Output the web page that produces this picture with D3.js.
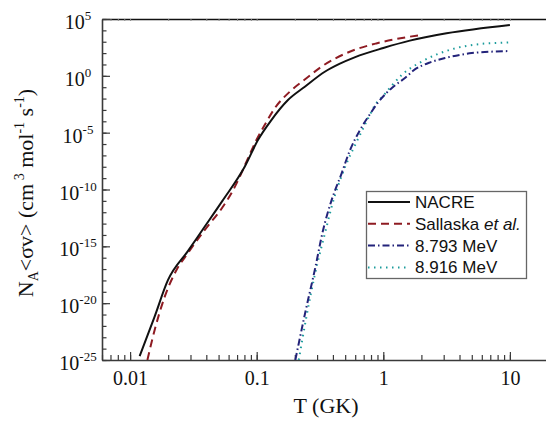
<!DOCTYPE html>
<html>
<head>
<meta charset="utf-8">
<script src="https://cdn.jsdelivr.net/npm/d3@7"></script>
<style>
  body { margin: 0; background: #fff; }
</style>
</head>
<body>
<div id="chart"></div>
<script>
// Temperatures in GK, and log10 of the rate
const tNacre = [0.0119, 0.0156, 0.0199, 0.0286, 0.0388, 0.0536, 0.0804, 0.1023, 0.1306, 0.1766, 0.24, 0.345, 0.45, 0.6, 1.0, 1.62, 3.16, 10];
const logNacre = [-24.65, -21.2, -17.98, -15.42, -13.28, -11.0, -8.0, -5.65, -3.89, -2.13, -0.96, 0.36, 1.05, 1.65, 2.45, 3.1, 3.74, 4.47];

const tSallaska = [0.0137, 0.0156, 0.01875, 0.0232, 0.0286, 0.0388, 0.0542, 0.0631, 0.0735, 0.0853, 0.0995, 0.1156, 0.1387, 0.1824, 0.247, 0.324, 0.543, 0.88, 1.53, 2.0];
const logSallaska = [-25.0, -22.4, -19.45, -17.1, -15.6, -13.57, -11.5, -10.34, -8.88, -7.26, -5.65, -4.33, -2.86, -1.4, -0.22, 0.8, 2.12, 2.85, 3.4, 3.6];

const t8793 = [0.202, 0.24, 0.29, 0.334, 0.389, 0.468, 0.543, 0.652, 0.782, 0.9, 1.05, 1.25, 1.5, 1.72, 2.3, 3.16, 5.0, 7.0, 10];
const log8793 = [-25, -21.0, -16.9, -13.6, -11.0, -8.6, -6.6, -4.8, -3.4, -2.4, -1.55, -0.8, -0.15, 0.45, 1.15, 1.6, 2.0, 2.12, 2.18];

const t8916 = [0.215, 0.247, 0.288, 0.356, 0.389, 0.506, 0.608, 0.782, 0.857, 1.0, 1.17, 1.39, 2.0, 3.46, 5.8, 8.6, 10];
const log8916 = [-25, -21.2, -17.5, -13.3, -11.6, -7.85, -5.94, -3.45, -2.6, -1.75, -0.85, 0.05, 1.24, 2.33, 2.8, 2.91, 2.95];

const xMajorTicks = [0.01, 0.1, 1, 10];
const xTickLabels = ["0.01", "0.1", "1", "10"];
const yMajorExp = [-25, -20, -15, -10, -5, 0, 5];

const width = 546, height = 424;
const margin = { top: 19, right: -2, bottom: 64, left: 102 };

const svg = d3.select("#chart").append("svg")
  .attr("width", width)
  .attr("height", height);

const x = d3.scaleLog()
  .domain([0.006, 20])
  .range([margin.left, width - margin.right]);

const y = d3.scaleLog()
  .domain([1e-25, 1e5])
  .range([height - margin.bottom, margin.top]);

svg.append("clipPath").attr("id", "plot-clip")
  .append("rect")
  .attr("x", margin.left)
  .attr("y", margin.top)
  .attr("width", width - margin.left - margin.right)
  .attr("height", height - margin.top - margin.bottom);

// minor x ticks: 1..9 per decade
const xMinor = [];
for (let e = -3; e <= 1; e++) {
  for (let m = 1; m <= 9; m++) {
    const v = m * Math.pow(10, e);
    if (v >= 0.006 && v <= 20) xMinor.push(v);
  }
}
const yMinor = d3.range(-25, 6).map(e => Math.pow(10, e));

const axisColor = "#3a3a3a";

function styleAxis(g) {
  g.selectAll("path.domain").attr("stroke", axisColor).attr("stroke-width", 1.6);
  g.selectAll(".tick line").attr("stroke", axisColor).attr("stroke-width", 1.2);
}

// top border with tiny ticks
svg.append("g")
  .attr("transform", `translate(0,${margin.top})`)
  .call(d3.axisBottom(x).tickValues(xMinor).tickSize(2).tickSizeOuter(0).tickFormat(""))
  .call(g => {
    g.select("path.domain").attr("stroke", "#111").attr("stroke-width", 1.6);
    g.selectAll(".tick line").attr("stroke", "#888").attr("stroke-width", 1);
  });

// bottom axis
const bottom = svg.append("g")
  .attr("transform", `translate(0,${height - margin.bottom})`);
bottom.append("g")
  .call(d3.axisBottom(x).tickValues(xMinor).tickSizeInner(-5).tickSizeOuter(0).tickFormat(""))
  .call(styleAxis);
bottom.append("g")
  .call(d3.axisBottom(x).tickValues(xMajorTicks).tickSizeInner(-8).tickSizeOuter(0).tickPadding(11)
    .tickFormat((d, i) => xTickLabels[i]))
  .call(styleAxis)
  .call(g => g.select("path.domain").remove())
  .call(g => g.selectAll("text")
    .attr("fill", "#111")
    .style("font-family", "'Liberation Serif', 'DejaVu Serif', serif")
    .style("font-size", "20px"));

// left axis
const left = svg.append("g")
  .attr("transform", `translate(${margin.left},0)`);
left.append("g")
  .call(d3.axisLeft(y).tickValues(yMinor).tickSizeInner(-4.5).tickSizeOuter(0).tickFormat(""))
  .call(styleAxis);
left.append("g")
  .call(d3.axisLeft(y).tickValues(yMajorExp.map(e => Math.pow(10, e))).tickSizeInner(-8).tickSizeOuter(0).tickFormat(""))
  .call(styleAxis)
  .call(g => g.select("path.domain").remove());

// y tick labels with superscripts
yMajorExp.forEach(e => {
  const t = svg.append("text")
    .attr("x", 78)
    .attr("y", y(Math.pow(10, e)) + 10)
    .attr("text-anchor", "middle")
    .attr("fill", "#111")
    .style("font-family", "'Liberation Serif', 'DejaVu Serif', serif")
    .style("font-size", "20px");
  t.append("tspan").text("10");
  t.append("tspan").attr("dy", -9).style("font-size", "13px").text(String(e));
});

// axis titles
svg.append("text")
  .attr("x", 326)
  .attr("y", 413)
  .attr("text-anchor", "middle")
  .attr("fill", "#111")
  .style("font-family", "'Liberation Serif', 'DejaVu Serif', serif")
  .style("font-size", "22px")
  .text("T (GK)");

const yTitle = svg.append("text")
  .attr("transform", "translate(33,193) rotate(-90)")
  .attr("text-anchor", "middle")
  .attr("fill", "#111")
  .style("font-family", "'Liberation Serif', 'DejaVu Serif', serif")
  .style("font-size", "22px");
yTitle.append("tspan").text("N");
yTitle.append("tspan").attr("dy", 5).style("font-size", "14px").text("A");
yTitle.append("tspan").attr("dy", -5).text("<σv> (cm");
yTitle.append("tspan").attr("dy", -9).style("font-size", "14px").text(" 3");
yTitle.append("tspan").attr("dy", 9).text(" mol");
yTitle.append("tspan").attr("dy", -9).style("font-size", "14px").text("-1");
yTitle.append("tspan").attr("dy", 9).text(" s");
yTitle.append("tspan").attr("dy", -9).style("font-size", "14px").text("-1");
yTitle.append("tspan").attr("dy", 9).text(")");

// series
const series = [
  { name: "NACRE", t: tNacre, r: logNacre, color: "#111111", dash: null },
  { name: "Sallaska", t: tSallaska, r: logSallaska, color: "#8e1b22", dash: "8,5" },
  { name: "8.793 MeV", t: t8793, r: log8793, color: "#23237a", dash: "7,3,1.5,3" },
  { name: "8.916 MeV", t: t8916, r: log8916, color: "#1c9c9c", dash: "1.5,4.5" }
];

const line = d3.line()
  .x(d => x(d[0]))
  .y(d => y(d[1]))
  .curve(d3.curveMonotoneX);

const plot = svg.append("g").attr("clip-path", "url(#plot-clip)");
series.slice().reverse().forEach(s => {
  const pts = s.t.map((t, i) => [t, Math.pow(10, s.r[i])]);
  plot.append("path")
    .datum(pts)
    .attr("fill", "none")
    .attr("stroke", s.color)
    .attr("stroke-width", 2)
    .attr("stroke-dasharray", s.dash)
    .attr("d", line);
});

// legend
const legend = svg.append("g");
legend.append("rect")
  .attr("x", 366.5).attr("y", 191.5)
  .attr("width", 160).attr("height", 87)
  .attr("fill", "#fff")
  .attr("stroke", "#666")
  .attr("stroke-width", 1.3);

series.forEach((s, i) => {
  const ly = 202 + i * 21.8;
  legend.append("line")
    .attr("x1", 368).attr("x2", 410)
    .attr("y1", ly).attr("y2", ly)
    .attr("stroke", s.color)
    .attr("stroke-width", 2)
    .attr("stroke-dasharray", s.dash);
  const txt = legend.append("text")
    .attr("x", 415).attr("y", ly + 6)
    .attr("fill", "#111")
    .style("font-family", "'Liberation Sans', Arial, sans-serif")
    .style("font-size", "17px");
  if (s.name === "Sallaska") {
    txt.append("tspan").text("Sallaska ");
    txt.append("tspan").style("font-style", "italic").text("et al.");
  } else {
    txt.text(s.name);
  }
});
</script>
</body>
</html>
